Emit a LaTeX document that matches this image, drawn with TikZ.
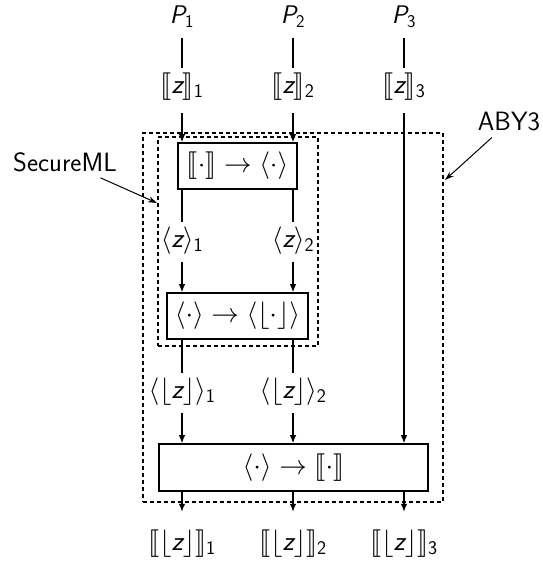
\documentclass[tikz,border=0pt]{standalone}
\usepackage{amstext}
\usepackage{stmaryrd}
% freely scalable math fonts
\DeclareFontShape{OML}{cmm}{m}{it}{<-> cmmi10}{}
\DeclareFontShape{OMS}{cmsy}{m}{n}{<-> cmsy10}{}
\DeclareFontShape{OMX}{cmex}{m}{n}{<-> cmex10}{}
\DeclareFontFamily{U}{stmry}{}
\DeclareFontShape{U}{stmry}{m}{n}{<-> stmary10}{}
\usetikzlibrary{arrows.meta}
% sans oblique letters, as in a sans-serif math setting
\newcommand{\vz}{\textsf{\itshape z}}
\newcommand{\vP}{\textsf{\itshape P}}
\newcommand{\ix}[1]{_{\textsf{#1}}}

\begin{document}
\begin{tikzpicture}[x=1pt,y=1pt,
  every node/.style={font=\fontsize{25.5}{30}\selectfont\sffamily},
  lbl/.style={inner sep=0pt, outer sep=8pt, text height=18pt, text depth=6.5pt},
  share/.style={lbl, font=\fontsize{27.5}{32}\selectfont\sffamily},
  conv/.style={draw, line width=1.6pt, inner sep=0pt, font=\fontsize{27.5}{32}\selectfont\sffamily},
  wire/.style={line width=1.2pt},
  flow/.style={wire, -{Latex[length=8pt,width=6.5pt]}},
  group/.style={draw, line width=1.2pt, dash pattern=on 4pt off 3pt, inner sep=0pt},
  note/.style={inner sep=6pt, font=\fontsize{26.5}{31}\selectfont\sffamily},
  pointer/.style={line width=1pt, -{Stealth[length=9pt,width=6pt]}}
]
\useasboundingbox (0,0) rectangle (542,-565);

% protocol groups
\node[group, minimum width=300pt, minimum height=369pt] (aby) at (293,-317.5) {};
\node[group, minimum width=160pt, minimum height=209pt] (sml) at (238,-241.5) {};

% parties
\node[lbl] (p1) at (182,-18) {$\vP\ix{1}$};
\node[lbl] (p2) at (293,-18) {$\vP\ix{2}$};
\node[lbl] (p3) at (404,-18) {$\vP\ix{3}$};

% input shares
\node[share] (s1) at (182,-88) {$\llbracket \vz \rrbracket\ix{1}$};
\node[share] (s2) at (293,-88) {$\llbracket \vz \rrbracket\ix{2}$};
\node[share] (s3) at (404,-88) {$\llbracket \vz \rrbracket\ix{3}$};

% conversions
\node[conv, minimum width=119pt, minimum height=46pt] (b1) at (237.5,-166) {$\llbracket\cdot\rrbracket \rightarrow \langle\cdot\rangle$};
\node[conv, minimum width=141pt, minimum height=46pt] (b2) at (237.5,-316) {$\langle\cdot\rangle \rightarrow \langle\lfloor\cdot\rfloor\rangle$};
\node[conv, minimum width=269pt, minimum height=47pt] (b3) at (293.5,-467.5) {$\langle\cdot\rangle \rightarrow \llbracket\cdot\rrbracket$};

% intermediate shares
\node[share] (a1) at (182,-242) {$\langle \vz \rangle\ix{1}$};
\node[share] (a2) at (293,-242) {$\langle \vz \rangle\ix{2}$};
\node[share] (f1) at (182,-393) {$\langle\lfloor \vz \rfloor\rangle\ix{1}$};
\node[share] (f2) at (293,-393) {$\langle\lfloor \vz \rfloor\rangle\ix{2}$};

% outputs
\node[share] (o1) at (182,-545) {$\llbracket\lfloor \vz \rfloor\rrbracket\ix{1}$};
\node[share] (o2) at (293,-545) {$\llbracket\lfloor \vz \rfloor\rrbracket\ix{2}$};
\node[share] (o3) at (404,-545) {$\llbracket\lfloor \vz \rfloor\rrbracket\ix{3}$};

% wires
\draw[wire] (p1) -- (s1);
\draw[wire] (p2) -- (s2);
\draw[wire] (p3) -- (s3);
\draw[flow, shorten <=5pt] (s1) -- (s1 |- b1.north);
\draw[flow, shorten <=5pt] (s2) -- (s2 |- b1.north);
\draw[flow, shorten <=5pt] (s3) -- (s3 |- b3.north);
\draw[wire] (a1 |- b1.south) -- (a1);
\draw[wire] (a2 |- b1.south) -- (a2);
\draw[flow] (a1) -- (a1 |- b2.north);
\draw[flow] (a2) -- (a2 |- b2.north);
\draw[wire] (f1 |- b2.south) -- (f1);
\draw[wire] (f2 |- b2.south) -- (f2);
\draw[flow] (f1) -- (f1 |- b3.north);
\draw[flow] (f2) -- (f2 |- b3.north);
\draw[flow, shorten >=13pt] (o1 |- b3.south) -- (o1);
\draw[flow, shorten >=13pt] (o2 |- b3.south) -- (o2);
\draw[flow, shorten >=13pt] (o3 |- b3.south) -- (o3);

% group labels
\node[note] (smltxt) at (65,-162) {SecureML};
\node[note] (abytxt) at (509,-122) {ABY3};
\coordinate (smlhit) at (157,-203);
\coordinate (abyhit) at (445,-180);
\draw[pointer] (smltxt) -- (smlhit);
\draw[pointer] (abytxt) -- (abyhit);
\end{tikzpicture}
\end{document}
